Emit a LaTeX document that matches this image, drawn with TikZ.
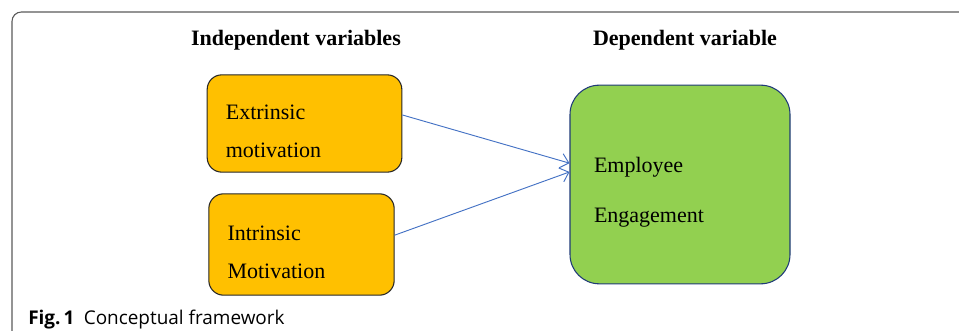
\documentclass[tikz,border=0pt]{standalone}
\usepackage{fontspec}
\setmainfont{Liberation Serif}
\newfontfamily\capfont{Open Sans}
\usetikzlibrary{arrows.meta,positioning,calc}

\definecolor{ivbox}{HTML}{FFC000}
\definecolor{dvbox}{HTML}{92D050}
\definecolor{dvline}{HTML}{1F3A78}
\definecolor{link}{HTML}{4472C4}
\definecolor{frame}{HTML}{5A5A5A}

\tikzset{
    ivnode/.style={draw=black!85, fill=ivbox, rounded corners=11pt, line width=0.8pt,
        align=left, text width=118pt, inner xsep=14pt, inner ysep=0pt, text height=22.5pt,
        font=\fontsize{16.5}{28.5}\selectfont},
    dvnode/.style={draw=dvline, fill=dvbox, rounded corners=22pt, line width=0.8pt,
        align=left, text width=129pt, inner xsep=18pt, inner ysep=0pt, text height=22.5pt,
        minimum width=165pt, minimum height=149pt,
        font=\fontsize{16.5}{37.5}\selectfont},
    heading/.style={font=\fontsize{16.5}{20}\selectfont\bfseries},
    linkarrow/.style={draw=link, line width=0.7pt, -{Straight Barb[length=6pt,width=11pt]}}
}

\begin{document}
\begin{tikzpicture}[x=0.75pt, y=-0.75pt]
                \useasboundingbox (0,0) rectangle (959,331);

                % outer frame
                \draw[frame, line width=0.8pt, rounded corners=7pt] (12,331) -- (12,12) -- (959,12);

                % headings
                \node[heading] (ivhead) at (296,40) {Independent variables};
                \node[heading] (dvhead) at (685,40) {Dependent variable};

                % independent variables
                \node[ivnode, minimum height=73pt] (ext) at (304.5,123.5) {Extrinsic\\motivation};
                \node[ivnode, text width=111pt, minimum height=76pt] (int) at (301.5,244.5) {Intrinsic\\Motivation};

                % dependent variable
                \node[dvnode] (eng) at (680,184.5) {Employee\\Engagement};

                % links
                \draw[linkarrow] ([yshift=6.4pt]ext.east) -- ([yshift=16pt]eng.west);
                \draw[linkarrow] ([yshift=7pt]int.east) -- ([yshift=9.4pt]eng.west);

                % caption
                \node[anchor=base west, inner sep=0pt, font=\capfont\fontsize{14.2}{16}\selectfont] (cap) at (28,324)
                    {\textbf{Fig.\,1}\hspace{7pt}Conceptual framework};
\end{tikzpicture}
\end{document}
